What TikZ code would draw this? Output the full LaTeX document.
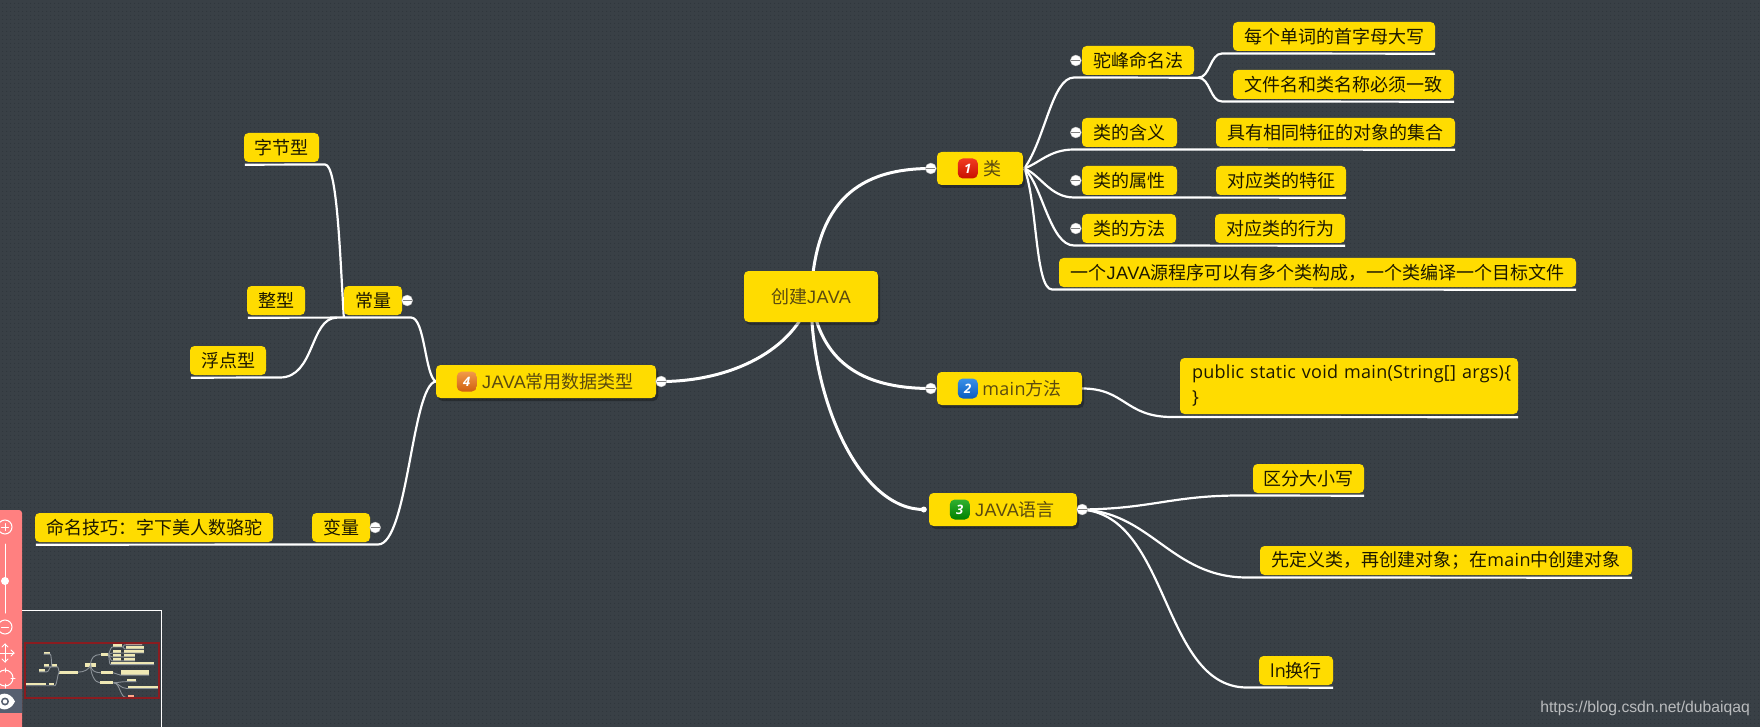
\documentclass[tikz,border=0pt]{standalone}
\usepackage{fontspec}
\setmainfont{Noto Sans CJK SC}
\newfontfamily\latinf[LetterSpace=1.5,WordSpace=0.8]{Open Sans}
\newfontfamily\javaf[LetterSpace=3]{Liberation Sans}
\newfontfamily\badgef{Open Sans}
\newfontfamily\urlf{Liberation Sans}
\usetikzlibrary{calc,shadows,patterns.meta,backgrounds}
\pgfdeclarelayer{base}
\pgfsetlayers{base,background,main}
\definecolor{bgc}{HTML}{394046}
\definecolor{dotc}{HTML}{30373D}
\definecolor{gold}{HTML}{FFDC00}
\definecolor{topt}{HTML}{5A4A10}
\definecolor{leaft}{HTML}{1C1800}
\definecolor{pinkbar}{HTML}{FF8080}
\definecolor{eyeband}{HTML}{565F70}
\definecolor{minibox}{HTML}{EFE8B4}
\definecolor{minihot}{HTML}{FFA98A}
\definecolor{minired}{HTML}{8A1C20}
\definecolor{miniline}{HTML}{8C9298}
\tikzset{
 x=1pt,y=-1pt,
 boxbase/.style={fill=gold,rounded corners=4.5pt,inner sep=0pt,font=\fontsize{18}{22}\selectfont,align=center},
 leaf/.style={boxbase,text=leaft},
 topbox/.style={boxbase,text=topt,drop shadow={shadow xshift=2pt,shadow yshift=-3pt,fill=black,opacity=.3}},
 conn/.style={draw=white,line width=2.2pt,line cap=butt,line join=round},
 connbig/.style={conn,line width=3pt},
 badge/.style={rounded corners=5pt,minimum width=20pt,minimum height=20pt,inner sep=0pt,text=white,font=\fontsize{13}{13}\selectfont\badgef\itshape\bfseries},
 collapse/.style={circle,fill=white,draw=white!70!black,line width=.4pt,minimum size=11pt,inner sep=0pt,path picture={\draw[gray,line width=1pt]($(path picture bounding box.west)+(1,0)$)--($(path picture bounding box.east)+(-1,0)$);}},
 enddot/.style={circle,fill=white,minimum size=6pt,inner sep=0pt},
 tool/.style={draw=white,line width=1pt,line cap=round},
}
% name, x1, y1, x2, y2, style, text
\newcommand\mmbox[7]{%
 \node[#6,minimum width={#4-#2},minimum height={#5-#3}] (#1) at ({(#2+#4)/2},{(#3+#5)/2}) {#7};
 \coordinate (#1-l) at ($(#1.south west)+(1,2.5)$);
 \coordinate (#1-r) at ($(#1.south east)+(0,2.5)$);
}
\newcommand\la[1]{{\latinf #1}}
\newcommand\ja{{\javaf JAVA}}
\begin{document}
\begin{tikzpicture}
\useasboundingbox (0,0) rectangle (1760,727);
\begin{pgfonlayer}{base}
\fill[bgc] (0,0) rectangle (1760,727);
\fill[pattern={Dots[distance=4pt,radius=.75pt]},pattern color=dotc] (0,0) rectangle (1760,727);
\end{pgfonlayer}

% central and main topics
\mmbox{root}{744}{271}{878}{322}{topbox}{\raisebox{-2pt}{创建\ja}}
\mmbox{lei}{937}{152}{1023}{185}{topbox}{\hspace*{24pt}\raisebox{-1pt}{类}}
\mmbox{mainm}{937}{372}{1082}{405}{topbox}{\hspace*{25pt}\raisebox{-1pt}{\la{main}方法}}
\mmbox{lang}{929}{493}{1077}{526}{topbox}{\hspace*{24pt}\raisebox{-1pt}{\ja 语言}}
\mmbox{types}{436}{365}{656}{398}{topbox}{\hspace*{24pt}\raisebox{-1pt}{\ja 常用数据类型}}

% class branch
\mmbox{hump}{1082}{46}{1194}{75}{leaf}{驼峰命名法}
\mmbox{cap}{1233}{22}{1435}{51}{leaf}{每个单词的首字母大写}
\mmbox{fname}{1233}{70}{1454}{99}{leaf}{文件名和类名称必须一致}
\mmbox{mean}{1082}{118}{1177}{147}{leaf}{类的含义}
\mmbox{meand}{1216}{118}{1455}{147}{leaf}{具有相同特征的对象的集合}
\mmbox{attr}{1082}{166}{1177}{195}{leaf}{类的属性}
\mmbox{attrd}{1216}{166}{1346}{195}{leaf}{对应类的特征}
\mmbox{meth}{1082}{214}{1176}{243}{leaf}{类的方法}
\mmbox{methd}{1215}{214}{1345}{243}{leaf}{对应类的行为}
\mmbox{src}{1059}{258}{1576}{287}{leaf}{一个\ja 源程序可以有多个类构成，一个类编译一个目标文件}

% main method
\node[leaf,minimum width=338pt,minimum height=56pt,text width=330pt,align=left,font=\fontsize{18}{25}\latinf] (sig) at (1349,386) {\hspace*{8pt}public static void main(String[] args)\{\\\hspace*{8pt}\}};
\coordinate (sig-r) at ($(sig.south east)+(0,3)$);

% language branch
\mmbox{case}{1253}{464}{1364}{493}{leaf}{区分大小写}
\mmbox{order}{1260}{546}{1632}{575}{leaf}{先定义类，再创建对象；在\la{main}中创建对象}
\mmbox{newl}{1259}{656}{1333}{685}{leaf}{\la{ln}换行}

% data types branch
\mmbox{const}{344}{286}{402}{315}{leaf}{常量}
\mmbox{byte}{244}{133}{319}{162}{leaf}{字节型}
\mmbox{intg}{247}{286}{305}{315}{leaf}{整型}
\mmbox{flt}{190}{346}{266}{375}{leaf}{浮点型}
\mmbox{vari}{312}{513}{370}{542}{leaf}{变量}
\mmbox{tip}{35}{513}{273}{542}{leaf}{命名技巧：字下美人数骆驼}

% connectors behind the boxes
\begin{scope}[on background layer]
\draw[connbig] (root.center) .. controls +(4,-86) and +(-81,0) .. ($(lei.west)+(-6,0)$);
\draw[connbig] (root.center) .. controls +(9,64) and +(-71,0) .. ($(mainm.west)+(-6,0)$);
\draw[connbig] (root.center) .. controls +(0,104) and +(-64,0) .. ($(lang.west)+(-5,0)$);
\draw[connbig] (root.center) .. controls +(-16,54) and +(69,0) .. ($(types.east)+(5,0)$);
% class children
\draw[conn] ($(lei.east)+(1,0)$) .. controls +(21,-29) and +(-22,0) .. (1074,77.5) -- ($(hump-r)+(4,0)$);
\draw[conn] ($(hump-r)+(4,0)$) .. controls +(12,0) and +(-12,0) .. (1222,53.5) -- (cap-r);
\draw[conn] ($(hump-r)+(4,0)$) .. controls +(12,0) and +(-12,0) .. (1222,101.5) -- (fname-r);
\draw[conn] ($(lei.east)+(1,0)$) .. controls +(16,-6) and +(-24,0) .. (1074,149.5) -- (meand-r);
\draw[conn] ($(lei.east)+(1,0)$) .. controls +(16,6) and +(-24,0) .. (1074,197.5) -- (attrd-r);
\draw[conn] ($(lei.east)+(1,0)$) .. controls +(18,16) and +(-24,0) .. (1074,245.5) -- (methd-r);
\draw[conn] ($(lei.east)+(1,0)$) .. controls +(13,31) and +(-17,0) .. (1052,289.5) -- (src-r);
% main method
\draw[conn] (mainm.east) .. controls +(43,0) and +(-47,0) .. (1172,417) -- (sig-r);
% language children
\draw[conn] (lang.east) .. controls +(73,0) and +(-70,0) .. (1240,495.5) -- (case-r);
\draw[conn] (lang.east) .. controls +(73,0) and +(-77,0) .. (1247,577.5) -- (order-r);
\draw[conn] (lang.east) .. controls +(93,0) and +(-87,0) .. (1247,687.5) -- (newl-r);
% data types children
\draw[conn] (types.west) .. controls +(-11,-6) and +(14,0) .. (411,317.5) -- (intg-l);
\draw[conn] (const.south west) ++(0,2.5) .. controls +(-4,-68) and +(12,0) .. (325,164.5) -- (byte-l);
\draw[conn] (const.south west) ++(-7,2.5) .. controls +(-27,0) and +(35,0) .. (280,377.5) -- (flt-l);
\draw[conn] (types.west) .. controls +(-24,3) and +(30,0) .. (378,544.5) -- (tip-l);
\end{scope}

% badges
\definecolor{r1}{HTML}{F03A20}\definecolor{r2}{HTML}{C81000}
\definecolor{u1}{HTML}{3A90E8}\definecolor{u2}{HTML}{0A5CC0}
\definecolor{g1}{HTML}{30B030}\definecolor{g2}{HTML}{008000}
\definecolor{o1}{HTML}{F29A48}\definecolor{o2}{HTML}{D06010}
\node[badge,top color=r1,bottom color=r2] (b1) at ($(lei.west)+(31,0)$) {1};
\node[badge,top color=u1,bottom color=u2] (b2) at ($(mainm.west)+(31,0)$) {2};
\node[badge,top color=g1,bottom color=g2] (b3) at ($(lang.west)+(31,0)$) {3};
\node[badge,top color=o1,bottom color=o2] (b4) at ($(types.west)+(31,0)$) {4};

% collapse buttons
\node[collapse] (c1) at ($(lei.west)+(-6,0)$) {};
\node[collapse] (c2) at ($(mainm.west)+(-6,0)$) {};
\node[enddot] (c3) at ($(lang.west)+(-5,0)$) {};
\node[collapse] (c4) at ($(lang.east)+(5,0)$) {};
\node[collapse] (c5) at ($(types.east)+(5,0)$) {};
\node[collapse] (c6) at ($(hump.west)+(-6,0)$) {};
\node[collapse] (c7) at ($(mean.west)+(-6,0)$) {};
\node[collapse] (c8) at ($(attr.west)+(-6,0)$) {};
\node[collapse] (c9) at ($(meth.west)+(-6,0)$) {};
\node[collapse] (c10) at ($(const.east)+(5,0)$) {};
\node[collapse] (c11) at ($(vari.east)+(5,0)$) {};

% watermark
\node[text=white!65!bgc,inner sep=0pt,anchor=east,font=\fontsize{15.7}{16}\urlf] (wm) at (1750,708) {https://blog.csdn.net/dubaiqaq};

% toolbar
\begin{scope}
\clip (0,0) rectangle (1760,727);
\fill[pinkbar,rounded corners=3pt] (-5,510) rectangle (22,740);
\fill[eyeband] (0,689) rectangle (22,713);
\draw[tool] (5,527) circle (7);
\draw[tool] (1.5,527) -- (8.5,527) (5,523.5) -- (5,530.5);
\draw[tool] (5,544) -- (5,613);
\fill[white] (5,581) circle (4);
\draw[tool] (5,627) circle (7);
\draw[tool] (1.5,627) -- (8.5,627);
\draw[tool] (-4,653) -- (14,653) (5,644) -- (5,662);
\draw[tool] (2,647) -- (5,644) -- (8,647) (2,659) -- (5,662) -- (8,659) (11,650) -- (14,653) -- (11,656);
\draw[tool] (5,678) circle (8);
\draw[tool] (5,668) -- (5,672) (5,684) -- (5,688) (11,678) -- (15,678);
\fill[white] (-6,701.5) .. controls (-1,691) and (10,691) .. (15,701.5) .. controls (10,712) and (-1,712) .. (-6,701.5) -- cycle;
\fill[eyeband] (5,701.5) circle (4);
\fill[white] (5,701.5) circle (2.2);
\end{scope}

% overview map
\draw[white,line width=1pt] (22,610.5) -- (161,610.5) -- (161,727);
\begin{scope}[shift={(23.25,640.5)},x=.083pt,y=-.083pt]
\foreach \a/\b/\c/\d in {744/271/878/322,937/152/1023/185,937/372/1082/405,929/493/1077/526,436/365/656/398,1082/46/1194/75,1233/70/1454/99,1082/118/1177/147,1216/118/1455/147,1082/166/1177/195,1216/166/1346/195,1082/214/1176/243,1215/214/1345/243,1059/258/1576/287,1180/358/1518/414,1253/464/1364/493,1260/546/1632/575,344/286/402/315,244/133/319/162,247/286/305/315,190/346/266/375,312/513/370/542,35/513/273/542}
 \fill[minibox] (\a,\b) rectangle (\c,\d);
\fill[minihot] (1233,22) rectangle (1435,51);
\fill[minihot] (1259,656) rectangle (1333,685);
\begin{scope}[draw=miniline,line width=.9pt]
\draw (811,296) .. controls (815,210) and (850,169) .. (931,169);
\draw (811,296) .. controls (820,360) and (860,388) .. (931,388);
\draw (811,296) .. controls (811,400) and (860,510) .. (924,510);
\draw (811,296) .. controls (795,350) and (730,381) .. (661,381);
\draw (1025,169) .. controls (1045,140) and (1052,78) .. (1074,78) -- (1198,78);
\draw (1198,78) .. controls (1210,78) and (1210,53) .. (1222,53) -- (1435,53);
\draw (1198,78) .. controls (1210,78) and (1210,102) .. (1222,102) -- (1454,102);
\draw (1025,169) .. controls (1040,163) and (1050,150) .. (1074,150) -- (1455,150);
\draw (1025,169) .. controls (1040,175) and (1050,198) .. (1074,198) -- (1346,198);
\draw (1025,169) .. controls (1042,185) and (1050,246) .. (1074,246) -- (1345,246);
\draw (1025,169) .. controls (1037,200) and (1035,290) .. (1052,290) -- (1576,290);
\draw (1082,388) .. controls (1125,388) and (1125,417) .. (1172,417) -- (1518,417);
\draw (1087,509) .. controls (1150,509) and (1170,496) .. (1240,496) -- (1364,496);
\draw (1087,509) .. controls (1150,509) and (1170,578) .. (1247,578) -- (1632,578);
\draw (1087,509) .. controls (1170,509) and (1160,688) .. (1247,688) -- (1333,688);
\draw (436,381) .. controls (425,375) and (425,318) .. (411,318) -- (248,318);
\draw (344,318) .. controls (340,250) and (337,165) .. (325,165) -- (245,165);
\draw (337,318) .. controls (310,318) and (315,378) .. (280,378) -- (191,378);
\draw (436,381) .. controls (412,385) and (408,545) .. (378,545) -- (36,545);
\end{scope}
\end{scope}
\draw[minired,line width=1.5pt] (25,643) rectangle (159,698);
\end{tikzpicture}
\end{document}
